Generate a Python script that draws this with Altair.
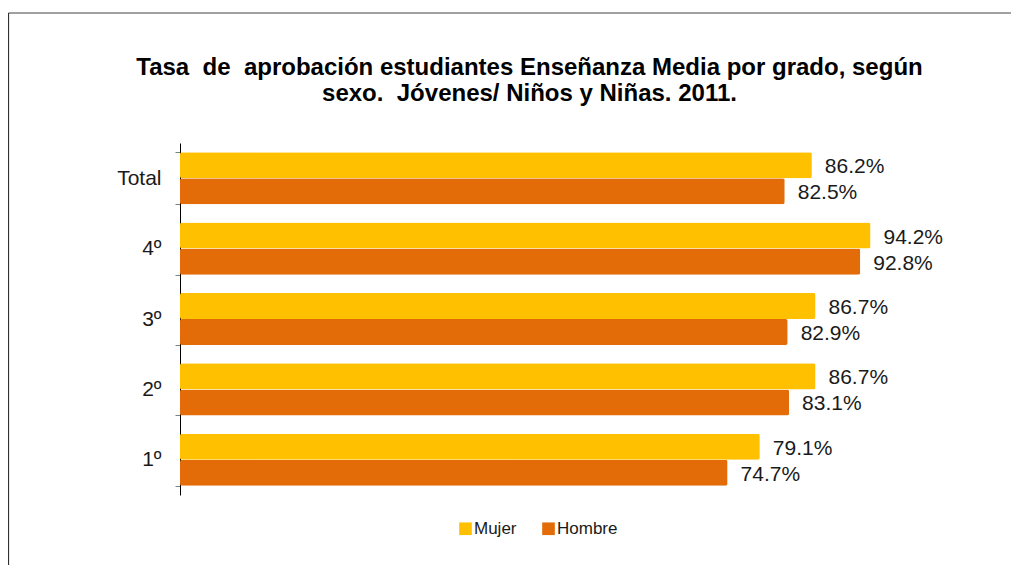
import altair as alt
import pandas as pd

grados = ["Total", "4º", "3º", "2º", "1º"]
mujer = [86.2, 94.2, 86.7, 86.7, 79.1]
hombre = [82.5, 92.8, 82.9, 83.1, 74.7]
sexos = ["Mujer", "Hombre"]
colores = ["#FFC000", "#E36C09"]

rows = []
for g, m, h in zip(grados, mujer, hombre):
    rows.append({"grado": g, "sexo": "Mujer", "valor": m})
    rows.append({"grado": g, "sexo": "Hombre", "valor": h})
df = pd.DataFrame(rows)

FONT = "Liberation Sans"

y_enc = alt.Y("grado:N", sort=grados, title=None,
              scale=alt.Scale(paddingInner=0.26, paddingOuter=0.13),
              axis=alt.Axis(tickBand="extent", domainColor="#000000", tickColor="#808080",
                            tickSize=5, labelFontSize=21, labelFont=FONT, labelColor="#1a1a1a",
                            labelPadding=14, grid=False))
yoff = alt.YOffset("sexo:N", sort=sexos, scale=alt.Scale(paddingInner=0, paddingOuter=0))
x_enc = alt.X("valor:Q", scale=alt.Scale(domain=[0, 100]), axis=None)

base = alt.Chart(df)

bars = base.mark_bar(cornerRadius=2).encode(
    x=x_enc, y=y_enc, yOffset=yoff,
    color=alt.Color("sexo:N", sort=sexos,
                    scale=alt.Scale(domain=sexos, range=colores),
                    legend=alt.Legend(title=None, orient="none", legendX=277, legendY=377,
                                      direction="horizontal", symbolType="square",
                                      symbolSize=160, symbolStrokeWidth=0, labelFontSize=17,
                                      labelFont=FONT, labelColor="#1a1a1a", labelOffset=0,
                                      columnPadding=23)),
)

texts = base.transform_calculate(
    etiqueta="format(datum.valor, '.1f') + '%'"
).mark_text(align="left", baseline="middle", dx=13, dy=2, fontSize=21, font=FONT,
            color="#1a1a1a").encode(
    x=x_enc, y=alt.Y("grado:N", sort=grados), yOffset=yoff, text="etiqueta:N"
)

border_top = alt.Chart(pd.DataFrame({"a": [0]})).mark_rule(color="#808080", strokeWidth=1.5).encode(
    x=alt.value(-171.5), x2=alt.value(860), y=alt.value(-130))
border_left = alt.Chart(pd.DataFrame({"a": [0]})).mark_rule(color="#303030", strokeWidth=1.2).encode(
    x=alt.value(-171.5), y=alt.value(-130), y2=alt.value(450))

chart = alt.layer(border_top, border_left, bars, texts).properties(
    width=733, height=352,
    background="white",
    padding={"left": 172, "top": 135, "right": 98, "bottom": 70},
    autosize=alt.AutoSizeParams(type="none"),
    title=alt.TitleParams(
        text=["Tasa\u00a0 de\u00a0 aprobación estudiantes Enseñanza Media por grado, según",
              "sexo.\u00a0 Jóvenes/ Niños y Niñas. 2011."],
        font=FONT, fontSize=24, fontWeight="bold", color="#000000",
        lineHeight=26, anchor="middle", dx=-17, offset=-94),
).configure_view(strokeWidth=0, stroke="transparent")

chart.save("out.html", embed_options={"renderer": "svg", "actions": False})
